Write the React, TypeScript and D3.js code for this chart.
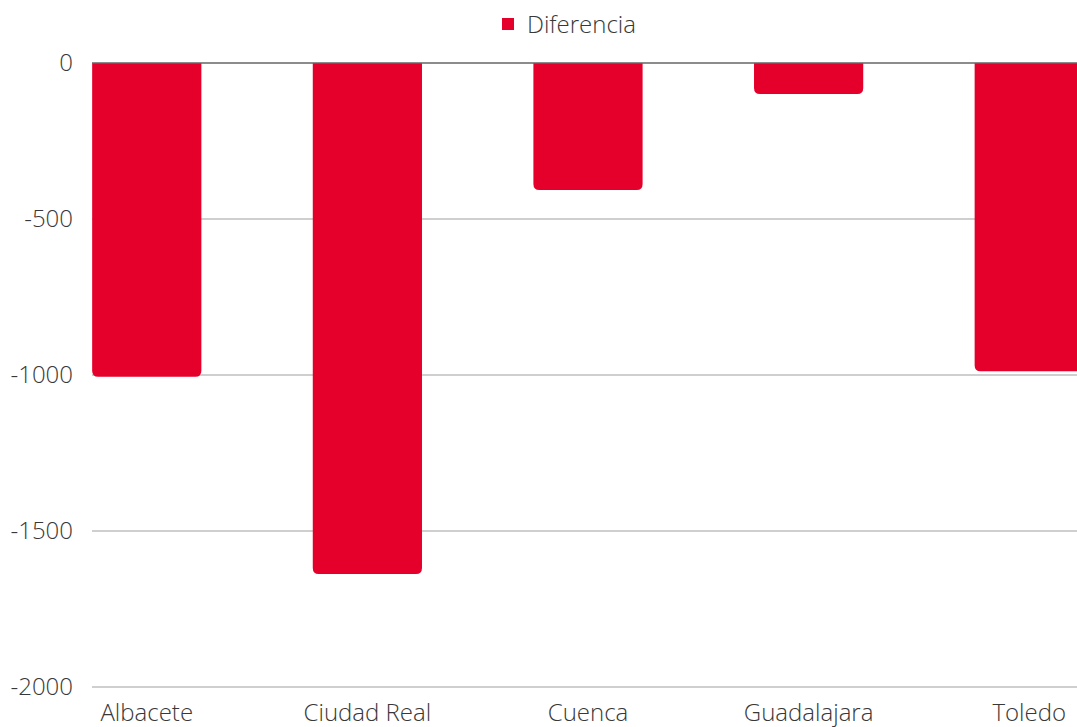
import React from "react";
import * as d3 from "d3";

const categories = ["Albacete", "Ciudad Real", "Cuenca", "Guadalajara", "Toledo"];
const diferencia = [-1006, -1638, -407, -99, -988];
const yTicks = [0, -500, -1000, -1500, -2000];
const seriesName = "Diferencia";

const W = 1077;
const H = 727;
const FONT = "'Open Sans', sans-serif";
const RED = "#E4002B";
const TXT = "#383838";

export default function App() {
  const x = d3.scaleBand<string>().domain(categories).range([37, 1139]).paddingInner(0.505).paddingOuter(0.25);
  const y = d3.scaleLinear().domain([-2000, 0]).range([687, 63]);
  const r = 6;
  const gridLeft = 92;

  const barPath = (c: string, v: number) => {
    const x0 = x(c) as number;
    const w = x.bandwidth();
    const y0 = y(0);
    const y1 = y(v);
    const rr = Math.min(r, (y1 - y0) / 2);
    return `M${x0},${y0}H${x0 + w}V${y1 - rr}Q${x0 + w},${y1} ${x0 + w - rr},${y1}H${x0 + rr}Q${x0},${y1} ${x0},${y1 - rr}Z`;
  };

  return (
    <svg width={W} height={H} style={{ position: "absolute", left: 0, top: 0 }} fontFamily={FONT} fontWeight={300}>
      <rect x={0} y={0} width={W} height={H} fill="#fff" />
      {yTicks.filter((t) => t !== 0).map((t) => (
        <line key={t} x1={gridLeft} x2={W} y1={y(t)} y2={y(t)} stroke="#bfbfbf" strokeWidth={1.5} />
      ))}
      {categories.map((c, i) => (
        <path key={c} d={barPath(c, diferencia[i])} fill={RED} />
      ))}
      <line x1={gridLeft} x2={W} y1={y(0)} y2={y(0)} stroke="#666" strokeWidth={1.5} />
      {yTicks.map((t) => (
        <text key={t} x={73} y={y(t)} dy="0.35em" textAnchor="end" fontSize={24} fill={TXT}>
          {t}
        </text>
      ))}
      {categories.map((c) => (
        <text key={c} x={(x(c) as number) + x.bandwidth() / 2} y={721} textAnchor="middle" fontSize={24} fill={TXT}>
          {c}
        </text>
      ))}
      <rect x={502} y={18} width={12} height={12} fill={RED} />
      <text x={527} y={33} fontSize={24} fill={TXT}>{seriesName}</text>
    </svg>
  );
}
